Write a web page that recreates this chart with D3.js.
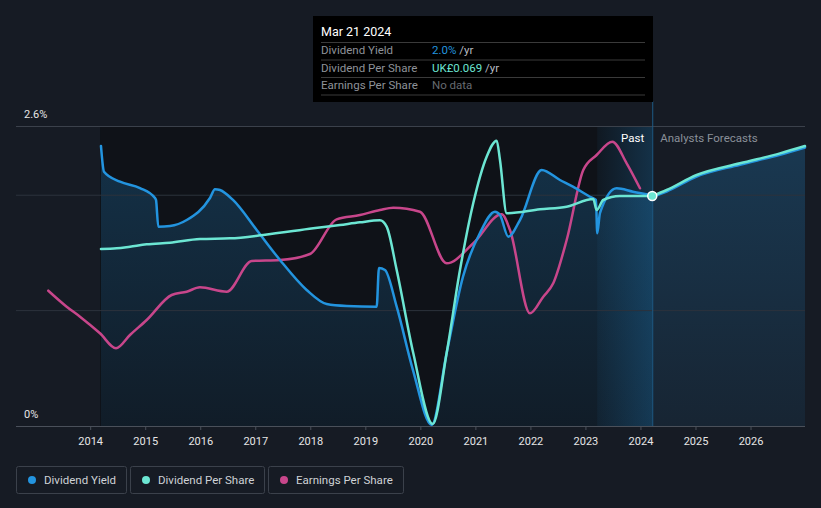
<!DOCTYPE html>
<html><head><meta charset="utf-8">
<script src="https://cdn.jsdelivr.net/npm/d3@7"></script>
<style>
html,body{margin:0;padding:0;background:#161b24;}
svg{display:block;font-family:Roboto,"Noto Sans",sans-serif;}
</style></head>
<body><svg id="c" width="821" height="508"></svg>
<script>
// ---- data (decimal years) ----
const yieldDates = [2014.196,2014.251,2014.542,2014.905,2015.178,2015.196,2015.238,2015.450,2015.754,2016.177,2016.268,2016.359,2016.595,2017.026,2017.449,2017.934,2018.298,2018.661,2019.206,2019.248,2019.357,2019.570,2019.866,2020.206,2020.478,2020.775,2021.083,2021.356,2021.447,2021.598,2021.810,2022.205,2022.537,2022.773,2023.082,2023.191,2023.215,2023.264,2023.568,2023.864,2024.214];
const yieldValues = [2.427,2.204,2.117,2.062,1.975,1.960,1.727,1.733,1.785,1.976,2.052,2.045,1.959,1.699,1.439,1.179,1.057,1.040,1.034,1.369,1.352,1.034,0.485,0.009,0.633,1.294,1.673,1.857,1.829,1.641,1.785,2.219,2.132,2.074,1.987,1.959,1.670,1.846,2.060,2.031,2.0];
const yieldFcDates = [2024.214,2024.476,2025.021,2025.808,2026.535,2026.990];
const yieldFcValues = [2.0,2.045,2.175,2.277,2.364,2.427];

const dpsDates = [2014.196,2014.482,2014.723,2015.027,2015.450,2015.995,2016.540,2017.146,2018.054,2018.539,2018.902,2019.266,2019.388,2019.570,2019.871,2020.224,2020.478,2020.720,2020.962,2021.205,2021.387,2021.447,2021.569,2022.174,2022.659,2023.142,2023.204,2023.324,2023.627,2024.214];
const dpsValues = [0.0531,0.0533,0.0538,0.0545,0.0550,0.0561,0.0563,0.0573,0.0593,0.0603,0.0611,0.0617,0.0598,0.0468,0.0219,0.0006,0.0219,0.0468,0.0669,0.0808,0.0856,0.0798,0.0638,0.0650,0.0658,0.0681,0.0648,0.0678,0.0690,0.0690];
const dpsFcDates = [2024.214,2024.476,2025.021,2025.808,2026.535,2026.990];
const dpsFcValues = [0.0690,0.0708,0.0753,0.0788,0.0818,0.0840];

const epsDates = [2013.239,2013.573,2013.815,2014.178,2014.469,2014.723,2015.027,2015.481,2015.754,2015.995,2016.480,2016.935,2017.449,2017.994,2018.479,2018.903,2019.266,2019.508,2019.993,2020.478,2020.962,2021.478,2021.629,2021.992,2022.234,2022.415,2022.659,2022.961,2023.204,2023.488,2023.749,2023.991];
const epsValues = [0.1353,0.1193,0.1093,0.0927,0.0777,0.0910,0.1060,0.1310,0.1343,0.1387,0.1343,0.1650,0.1660,0.1720,0.2067,0.2110,0.2160,0.2183,0.2143,0.1627,0.1827,0.2117,0.1960,0.1127,0.1293,0.1427,0.1860,0.2560,0.2710,0.2843,0.2627,0.2377];

const xTicks = [2014,2015,2016,2017,2018,2019,2020,2021,2022,2023,2024,2025,2026];
const yTickLabels = ["0%","2.6%"];
const seriesNames = ["Dividend Yield","Dividend Per Share","Earnings Per Share"];
const seriesColors = ["#2394df","#6ce6d3","#c8468b"];
const tooltipDate = "Mar 21 2024";
const tooltipRows = [["Dividend Yield","2.0%"," /yr"],["Dividend Per Share","UK£0.069"," /yr"],["Earnings Per Share","No data",""]];
const nowYear = 2024.214, pastStart = 2023.214, dataStart = 2014.18;

// ---- scales ----
const svg = d3.select("#c");
const L=16, R=805, T=126, B=426;
const x = d3.scaleLinear().domain([2012.652, 2026.99]).range([L, R]);
const yY = d3.scaleLinear().domain([0, 2.6]).range([B, T]);
const yD = d3.scaleLinear().domain([0, 0.069]).range([B, 196]);
const yE = d3.scaleLinear().domain([0, 0.3]).range([B, T]);

const defs = svg.append("defs");
const ag = defs.append("linearGradient").attr("id","areaG").attr("x1",0).attr("y1",0).attr("x2",0).attr("y2",1);
ag.append("stop").attr("offset","0%").attr("stop-color","#2394df").attr("stop-opacity",0.24);
ag.append("stop").attr("offset","100%").attr("stop-color","#2394df").attr("stop-opacity",0.08);
const pg = defs.append("linearGradient").attr("id","pastG").attr("x1",0).attr("y1",0).attr("x2",1).attr("y2",0);
pg.append("stop").attr("offset","0%").attr("stop-color","#2394df").attr("stop-opacity",0.05);
pg.append("stop").attr("offset","100%").attr("stop-color","#2394df").attr("stop-opacity",0.24);

// background bands
svg.append("rect").attr("x",x(dataStart)).attr("y",T).attr("width",x(nowYear)-x(dataStart)).attr("height",B-T).attr("fill","#0f1218");
svg.append("rect").attr("x",x(pastStart)).attr("y",T).attr("width",x(nowYear)-x(pastStart)).attr("height",B-T).attr("fill","url(#pastG)");

// area under yield
const yPts = yieldDates.map((d,i)=>[d,yieldValues[i]]).concat(yieldFcDates.slice(1).map((d,i)=>[d,yieldFcValues[i+1]]));
const area = d3.area().x(d=>x(d[0])).y0(B).y1(d=>yY(d[1])).curve(d3.curveMonotoneX);
svg.append("path").datum(yPts).attr("d",area).attr("fill","url(#areaG)");

// gridlines
[1,2].forEach(v=>svg.append("line").attr("x1",L).attr("x2",R).attr("y1",yY(v)).attr("y2",yY(v)).attr("stroke","#2c323c").attr("stroke-width",1));
svg.append("line").attr("x1",L).attr("x2",R).attr("y1",T+0.5).attr("y2",T+0.5).attr("stroke","#3b414b");

// x axis
const xa = svg.append("g").attr("transform",`translate(0,${B})`)
  .call(d3.axisBottom(x).tickValues(xTicks).tickFormat(d3.format("d")).tickSize(4).tickSizeOuter(0));
xa.select(".domain").remove();
xa.append("line").attr("x1",L).attr("x2",R).attr("y1",0.5).attr("y2",0.5).attr("stroke","#4a505a");
xa.selectAll(".tick line").attr("stroke","#4a505a");
xa.selectAll(".tick text").attr("fill","#e6e6e6").attr("font-size",11).attr("dy","1.05em").attr("font-family","Roboto,sans-serif");

// y labels
svg.append("text").attr("x",24).attr("y",yY(2.6)-8).attr("fill","#e6e6e6").attr("font-size",11).text(yTickLabels[1]);
svg.append("text").attr("x",24).attr("y",yY(0)-8).attr("fill","#e6e6e6").attr("font-size",11).text(yTickLabels[0]);

// now line
svg.append("line").attr("x1",x(nowYear)+0.5).attr("x2",x(nowYear)+0.5).attr("y1",101).attr("y2",B).attr("stroke","#1d5b86").attr("stroke-width",1);

// Past / forecast labels
svg.append("text").attr("x",x(nowYear)-8).attr("y",142).attr("text-anchor","end").attr("fill","#ffffff").attr("font-size",11.5).text("Past");
svg.append("text").attr("x",x(nowYear)+8).attr("y",142).attr("fill","#8a9099").attr("font-size",11.5).text("Analysts Forecasts");

const line = (ys)=>d3.line().x(d=>x(d[0])).y(d=>ys(d[1])).curve(d3.curveMonotoneX);
const ln = (dates,vals,ys,col)=>svg.append("path").datum(dates.map((d,i)=>[d,vals[i]])).attr("d",line(ys)).attr("fill","none").attr("stroke",col).attr("stroke-width",2.5).attr("stroke-linejoin","round").attr("stroke-linecap","round");

ln(epsDates,epsValues,yE,seriesColors[2]);
ln(yieldDates,yieldValues,yY,seriesColors[0]);
ln(dpsDates,dpsValues,yD,seriesColors[1]);
ln(yieldFcDates,yieldFcValues,yY,seriesColors[0]).attr("transform","translate(0,1.5)");
ln(dpsFcDates,dpsFcValues,yD,seriesColors[1]);

svg.append("circle").attr("cx",x(nowYear)).attr("cy",yD(0.069)).attr("r",4.5).attr("fill",seriesColors[1]).attr("stroke","#ffffff").attr("stroke-width",1.5);

// tooltip
const tt = svg.append("g").attr("transform","translate(313,16)");
tt.append("rect").attr("width",340).attr("height",86).attr("fill","#000000");
tt.append("text").attr("x",8).attr("y",20).attr("fill","#ffffff").attr("font-size",12.5).text(tooltipDate);
[0,1,2,3].forEach(i=>tt.append("line").attr("x1",8).attr("x2",332).attr("y1",26.5+i*17.5).attr("y2",26.5+i*17.5).attr("stroke","#3a3a3a"));
const valColors = [seriesColors[0],seriesColors[1],"#666a70"];
tooltipRows.forEach((r,i)=>{
  const yy = 38+i*17.5;
  tt.append("text").attr("x",8).attr("y",yy).attr("fill","#8e9298").attr("font-size",11.5).text(r[0]);
  const t = tt.append("text").attr("x",119).attr("y",yy).attr("font-size",11.5);
  t.append("tspan").attr("fill",valColors[i]).text(r[1]);
  t.append("tspan").attr("fill","#b8bcc2").text(r[2]);
});

// legend
const lx = [16,130,268], lw = [110,134,135];
seriesNames.forEach((n,i)=>{
  const g = svg.append("g").attr("transform",`translate(${lx[i]},466)`);
  g.append("rect").attr("x",0.5).attr("y",0.5).attr("width",lw[i]).attr("height",27).attr("rx",2).attr("fill","none").attr("stroke","#3b414b");
  g.append("circle").attr("cx",16).attr("cy",14).attr("r",4).attr("fill",seriesColors[i]);
  g.append("text").attr("x",28).attr("y",18).attr("fill","#cfd2d6").attr("font-size",11.5).text(n);
});
</script></body></html>
